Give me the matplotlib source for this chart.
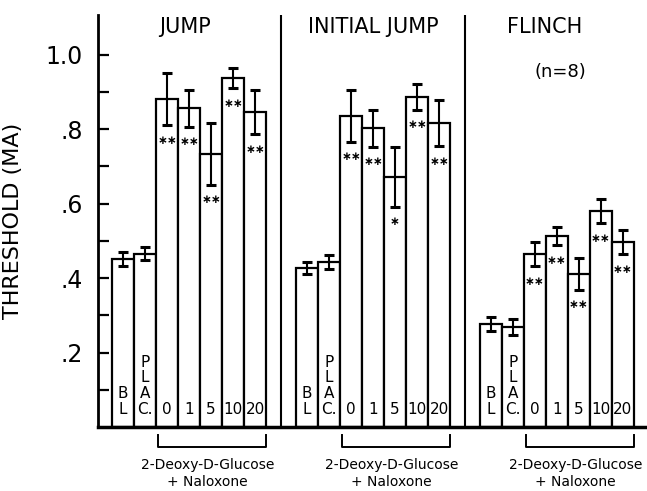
import matplotlib
matplotlib.use("Agg")
import matplotlib.pyplot as plt
import numpy as np

# === Dados ===
grupos = ["JUMP", "INITIAL JUMP", "FLINCH"]
rotulos_barras = ["B\nL", "P\nL\nA\nC.", "0", "1", "5", "10", "20"]

limiar_jump = [0.451, 0.465, 0.880, 0.856, 0.733, 0.937, 0.846]
erro_jump = [0.018, 0.018, 0.070, 0.050, 0.082, 0.028, 0.060]
sig_jump = ["", "", "**", "**", "**", "**", "**"]

limiar_inicial = [0.427, 0.443, 0.835, 0.802, 0.671, 0.886, 0.816]
erro_inicial = [0.017, 0.018, 0.070, 0.050, 0.080, 0.035, 0.062]
sig_inicial = ["", "", "**", "**", "*", "**", "**"]

limiar_flinch = [0.277, 0.268, 0.464, 0.513, 0.411, 0.580, 0.497]
erro_flinch = [0.018, 0.022, 0.033, 0.025, 0.043, 0.033, 0.033]
sig_flinch = ["", "", "**", "**", "**", "**", "**"]

ticks_y = [0.2, 0.4, 0.6, 0.8, 1.0]
ticks_y_rotulos = [".2", ".4", ".6", ".8", "1.0"]
ticks_y_menores = [0.1, 0.3, 0.5, 0.7, 0.9]

texto_droga = "2-Deoxy-D-Glucose\n+ Naloxone"

valores = [limiar_jump, limiar_inicial, limiar_flinch]
erros = [erro_jump, erro_inicial, erro_flinch]
sigs = [sig_jump, sig_inicial, sig_flinch]

plt.rcParams["font.family"] = ["DejaVu Sans"]

fig = plt.figure(figsize=(6.47, 4.91), dpi=100)
ax = fig.add_axes([98 / 647, 64 / 491, 549 / 647, 412 / 491])

passo = 8.36
inicio0 = 0.64
lw = 1.6

for g, nome in enumerate(grupos):
    inicio = inicio0 + g * passo
    x = inicio + np.arange(7) + 0.5
    ax.bar(x, valores[g], width=1.0, color="white", edgecolor="black", linewidth=lw, zorder=2)
    ax.errorbar(x, valores[g], yerr=erros[g], fmt="none", ecolor="black",
                elinewidth=1.5, capsize=3.5, capthick=2.2, zorder=3)

    for i in range(7):
        ax.text(x[i], 0.028, rotulos_barras[i], ha="center", va="bottom",
                fontsize=11, linespacing=1.05, zorder=4)
        if sigs[g][i]:
            estrelas = sigs[g][i].replace("*", "\u2217")
            ax.text(x[i], valores[g][i] - erros[g][i] - 0.04, estrelas,
                    ha="center", va="center", fontsize=8.5, fontweight="bold",
                    zorder=4)

    # chave sob as doses
    x0 = inicio + 2 + 0.1
    x1 = inicio + 7
    ax.plot([x0, x0, x1, x1], [-0.021, -0.054, -0.054, -0.021], color="black",
            lw=1.4, clip_on=False)
    ax.text((x0 + x1) / 2 - 0.2, -0.125, texto_droga, ha="center", va="center",
            fontsize=10, linespacing=1.25)

    # titulo do painel
    desloc = [-0.2, 0.0, -0.55][g]
    ax.text(inicio + 3.5 + desloc, 1.074, nome, ha="center", va="center", fontsize=15)

    if g < 2:
        ax.axvline(inicio + 7 + (passo - 7) / 2, color="black", lw=1.5)

ax.text(21.0, 0.953, "(n=8)", ha="center", va="center", fontsize=13)

ax.set_xlim(0, 549 / 22)
ax.set_ylim(0, 412 / 372.5)

ax.set_yticks(ticks_y)
ax.set_yticklabels(ticks_y_rotulos, fontsize=17)
ax.set_yticks(ticks_y_menores, minor=True)
ax.tick_params(axis="y", which="both", direction="in", length=8, width=1.6, pad=11)
ax.set_xticks([])

for lado in ["top", "right"]:
    ax.spines[lado].set_visible(False)
ax.spines["left"].set_linewidth(2)
ax.spines["bottom"].set_linewidth(2.5)

ax.set_ylabel("THRESHOLD (MA)", fontsize=16)
ax.yaxis.set_label_coords(-0.137, 0.5)

fig.savefig("out.png", dpi=100)
